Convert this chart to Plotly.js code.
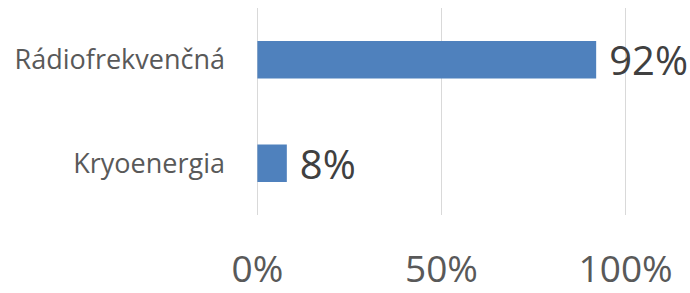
<!DOCTYPE html>
<html><head><meta charset="utf-8">
<script src="https://cdn.plot.ly/plotly-3.0.1.min.js"></script>
<style>html,body{margin:0;padding:0;background:#fff}</style>
</head><body><div id="chart" style="width:690px;height:293px"></div>
<script>
const categories = ["Kryoenergia", "Rádiofrekvenčná"];
const values = [8, 92];
const valueLabels = ["8%", "92%"];
const tickVals = [0, 50, 100];
const tickLabels = ["0%", "50%", "100%"];

const fontFam = "Open Sans, Noto Sans, sans-serif";
Plotly.newPlot("chart", [{
  type: "bar",
  orientation: "h",
  y: categories,
  x: values,
  text: valueLabels.map(t => "\u2005" + t),
  textposition: "outside",
  constraintext: "none",
  cliponaxis: false,
  textfont: {family: fontFam, size: 40, color: "#404040"},
  marker: {color: "#4F81BD", line: {width: 0}},
  width: 0.36,
  hoverinfo: "none"
}], {
  width: 690, height: 293,
  margin: {l: 249.6, r: 56.6, t: 8, b: 78},
  paper_bgcolor: "#fff", plot_bgcolor: "#fff",
  showlegend: false,
  font: {family: fontFam},
  xaxis: {
    range: [-2, 102], tickvals: tickVals, ticktext: tickLabels,
    showgrid: true, gridcolor: "#d9d9d9", gridwidth: 1.5,
    zeroline: false, showline: false, ticks: "",
    ticklabelstandoff: 29,
    tickfont: {family: fontFam, size: 37, color: "#595959"},
    fixedrange: true
  },
  yaxis: {
    range: [-0.5, 1.5],
    showgrid: false, zeroline: false, showline: false, ticks: "",
    ticklabelstandoff: 24,
    tickfont: {family: fontFam, size: 27, color: "#595959"},
    fixedrange: true
  }
}, {displayModeBar: false, staticPlot: true});
</script></body></html>
